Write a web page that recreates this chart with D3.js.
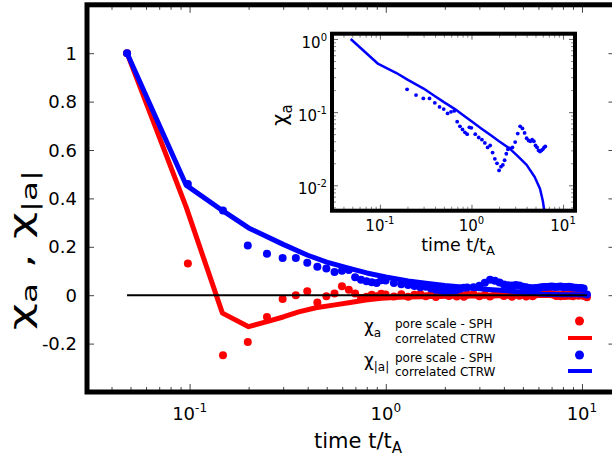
<!DOCTYPE html>
<html><head><meta charset="utf-8">
<script src="https://cdnjs.cloudflare.com/ajax/libs/d3/7.8.5/d3.min.js"></script>
<style>body{margin:0;background:#fff} svg{display:block} text{font-family:"DejaVu Sans",sans-serif;fill:#000;font-weight:normal}</style>
</head><body><svg id="c" width="612" height="457"></svg>
<script>
// ---------------- data ----------------
const tSPH = [0.048,0.098,0.148,0.198,0.248,0.298,0.348,0.398,0.448,0.498,
  0.548,0.598,0.648,0.698,0.748,0.798,0.848,0.898,0.948,0.998,
  1.1,1.2,1.3,1.4,1.5,1.6,1.7,1.8,1.9,2.0,
  2.1,2.2,2.3,2.4,2.5,2.6,2.8,3.0,3.2,3.4,
  3.6,3.8,4.0,4.2,4.4,4.6,4.8,5.0,5.2,5.4,
  5.6,5.8,6.0,6.2,6.4,6.6,6.8,7.0,7.2,7.4,
  7.6,7.8,8.0,8.2,8.4,8.6,8.8,9.0,9.3,9.6,
  9.9,10.2,10.6];
const chiA_SPH = [1.0,0.131,-0.248,-0.193,-0.09,-0.016,0.0,0.016,-0.03,-0.004,
  0.007,0.037,0.023,0.007,-0.012,-0.006,0.002,-0.004,0.006,0.003,
  -0.005,0.004,-0.006,0.002,0.005,-0.004,0.003,-0.007,0.001,0.004,
  -0.003,0.006,-0.005,0.002,-0.006,0.003,0.005,-0.004,0.002,-0.005,
  0.004,0.006,-0.003,0.002,-0.006,0.003,-0.002,0.004,-0.005,0.001,
  -0.004,0.003,0.006,0.008,0.009,0.007,0.008,0.004,0.002,-0.003,
  0.001,-0.004,0.002,-0.003,0.001,-0.002,0.003,-0.004,0.002,-0.002,
  0.001,-0.003,-0.008];
const chiAbs_SPH = [1.0,0.46,0.35,0.205,0.171,0.154,0.154,0.134,0.118,0.110,
  0.096,0.101,0.104,0.074,0.064,0.058,0.053,0.050,0.062,0.061,
  0.050,0.045,0.042,0.038,0.033,0.035,0.028,0.023,0.020,0.016,
  0.018,0.019,0.022,0.027,0.031,0.032,0.033,0.039,0.051,0.064,
  0.060,0.052,0.044,0.041,0.040,0.042,0.040,0.035,0.033,0.030,
  0.029,0.030,0.031,0.033,0.034,0.034,0.035,0.036,0.035,0.034,
  0.035,0.036,0.034,0.033,0.034,0.035,0.033,0.032,0.031,0.030,
  0.030,0.028,0.003];
const tCTRW_a = [0.048,0.096,0.147,0.2,0.24,0.3,0.36,0.44,0.54,0.66,0.79,0.95,1.17,1.5,2,3,4,5,6,7,8,9,10.6];
const chiA_CTRW = [1.0,0.365,-0.074,-0.13,-0.112,-0.09,-0.069,-0.052,-0.041,-0.03,-0.02,-0.013,-0.008,-0.006,-0.004,-0.003,-0.002,-0.002,-0.001,-0.001,0.0,0.0,0.0];
const tCTRW_abs = [0.048,0.096,0.15,0.2,0.3,0.4,0.5,0.66,0.8,1.0,1.3,1.6,2.0,2.6,3.2,4.0,4.9,5.6,6.0,6.3,7,8,9,10.6];
const chiAbs_CTRW = [1.0,0.455,0.345,0.278,0.21,0.165,0.137,0.110,0.092,0.075,0.059,0.049,0.040,0.032,0.025,0.019,0.013,0.009,0.0062,0.0042,0.003,0.002,0.002,0.001];
const zeroLineT = [0.048, 10.6];
const yTicks = [-0.2,0,0.2,0.4,0.6,0.8,1];
const yTickLabels = ["-0.2","0","0.2","0.4","0.6","0.8","1"];
const xMajorTicks = [0.1,1,10];
const xTickExps = ["-1","0","1"];
const insetYMajor = [0.01,0.1,1];
const insetYExps = ["-2","-1","0"];
const insetTRange = [0.19, 6.5];
const legendRows = [
  {sym:"a", label:"pore scale - SPH", kind:"dot", color:"#ff0000"},
  {sym:"", label:"correlated CTRW", kind:"line", color:"#ff0000"},
  {sym:"|a|", label:"pore scale - SPH", kind:"dot", color:"#0000ff"},
  {sym:"", label:"correlated CTRW", kind:"line", color:"#0000ff"}
];
const RED = "#ff0000", BLUE = "#0000ff";

// ---------------- main ----------------
const svg = d3.select("#c");
const X0 = 87, X1 = 616.5, Y0 = 392, Y1 = 4.8;
const x = d3.scaleLog().domain([0.03, 15]).range([X0, X1]);
const y = d3.scaleLinear().domain([-0.4, 1.2]).range([Y0, Y1]);
const isMajor = t => Math.abs(Math.log10(t) - Math.round(Math.log10(t))) < 1e-6;
const xMinor = x.ticks().filter(t => !isMajor(t));

function addAxis(gen, tx, ty, color) {
  const g = svg.append("g").attr("transform", `translate(${tx},${ty})`).call(gen);
  g.select(".domain").remove();
  g.selectAll("text").remove();
  g.selectAll("line").attr("stroke", color || "#444").attr("stroke-width", 1);
  return g;
}
addAxis(d3.axisBottom(x).tickValues(xMajorTicks).tickSize(-8).tickFormat(""), 0, Y0);
addAxis(d3.axisBottom(x).tickValues(xMinor).tickSize(-5).tickFormat(""), 0, Y0);
addAxis(d3.axisTop(x).tickValues(xMajorTicks).tickSize(-8).tickFormat(""), 0, Y1);
addAxis(d3.axisTop(x).tickValues(xMinor).tickSize(-5).tickFormat(""), 0, Y1);
addAxis(d3.axisLeft(y).tickValues(yTicks).tickSize(-7).tickFormat(""), X0, 0);
addAxis(d3.axisRight(y).tickValues(yTicks).tickSize(-8).tickFormat(""), X1, 0);

const sph = tSPH.map((t, i) => ({t, a: chiA_SPH[i], b: chiAbs_SPH[i]}));
const ctrwA = tCTRW_a.map((t, i) => ({t, v: chiA_CTRW[i]}));
const ctrwB = tCTRW_abs.map((t, i) => ({t, v: chiAbs_CTRW[i]}));
const lineMain = d3.line().x(d => x(d.t)).y(d => y(d.v));

svg.append("path").datum(ctrwA).attr("d", lineMain).attr("fill", "none")
  .attr("stroke", RED).attr("stroke-width", 5).attr("stroke-linejoin", "round");
svg.append("g").selectAll("circle").data(sph).join("circle")
  .attr("cx", d => x(d.t)).attr("cy", d => y(d.a)).attr("r", 4).attr("fill", RED);
svg.append("path").datum(ctrwB).attr("d", lineMain).attr("fill", "none")
  .attr("stroke", BLUE).attr("stroke-width", 5).attr("stroke-linejoin", "round");
svg.append("g").selectAll("circle").data(sph).join("circle")
  .attr("cx", d => x(d.t)).attr("cy", d => y(d.b)).attr("r", 4).attr("fill", BLUE);
svg.append("path").datum(zeroLineT.map(t => ({t, v: 0}))).attr("d", lineMain)
  .attr("stroke", "#000").attr("stroke-width", 2).attr("fill", "none");

// frame
svg.append("rect").attr("x", X0).attr("y", Y1).attr("width", X1 - X0).attr("height", Y0 - Y1)
  .attr("fill", "none").attr("stroke", "#000").attr("stroke-width", 5);

// tick labels
svg.append("g").selectAll("text").data(yTicks).join("text")
  .attr("x", 77).attr("y", d => y(d) + 6.5).attr("text-anchor", "end").attr("font-size", 18)
  .text((d, i) => yTickLabels[i]);
xMajorTicks.forEach((t, i) => {
  const tx = svg.append("text").attr("x", x(t)).attr("y", 420).attr("text-anchor", "middle").attr("font-size", 18);
  tx.append("tspan").text("10");
  tx.append("tspan").attr("font-size", 12).attr("dy", -8).text(xTickExps[i]);
});
// axis labels
const xl = svg.append("text").attr("x", 358).attr("y", 448).attr("text-anchor", "middle").attr("font-size", 21);
xl.append("tspan").text("time t/t");
xl.append("tspan").attr("font-size", 15).attr("dy", 5).text("A");
const yl = svg.append("text").attr("transform", "translate(31,250) rotate(-90)").attr("text-anchor", "middle")
  .attr("font-size", 30).attr("textLength", 160).attr("lengthAdjust", "spacingAndGlyphs");
yl.append("tspan").text("χ");
yl.append("tspan").attr("font-size", 21).attr("dy", 6).text("a");
yl.append("tspan").attr("dy", -6).text(" , ");
yl.append("tspan").text("χ");
yl.append("tspan").attr("font-size", 21).attr("dy", 6).text("|a|");

// legend
const lg = svg.append("g");
const rowY = [323, 338, 357, 371];
legendRows.forEach((r, i) => {
  lg.append("text").attr("x", 395).attr("y", rowY[i] + 4.5).attr("font-size", 12).text(r.label);
  if (r.kind === "dot") lg.append("circle").attr("cx", 579.5).attr("cy", rowY[i] - 2).attr("r", 4.5).attr("fill", r.color);
  else lg.append("line").attr("x1", 568).attr("x2", 592).attr("y1", rowY[i]).attr("y2", rowY[i]).attr("stroke", r.color).attr("stroke-width", 4);
  if (r.sym) {
    const s = lg.append("text").attr("x", 364).attr("y", rowY[i] + 9).attr("font-size", 17);
    s.append("tspan").text("χ");
    s.append("tspan").attr("font-size", 12).attr("dy", 5).text(r.sym);
  }
});

// ---------------- inset ----------------
const IX0 = 332, IX1 = 575, IY0 = 210.7, IY1 = 33.7;
const xi = d3.scaleLog().domain([0.03, 13.5]).range([IX0, IX1]);
const yi = d3.scaleLog().domain([0.0045, 1.18]).range([IY0, IY1]);
svg.append("rect").attr("x", IX0).attr("y", IY1).attr("width", IX1 - IX0).attr("height", IY0 - IY1).attr("fill", "#fff");
svg.append("clipPath").attr("id", "ic").append("rect").attr("x", IX0).attr("y", IY1).attr("width", IX1 - IX0).attr("height", IY0 - IY1);
const xiMinor = xi.ticks().filter(t => !isMajor(t));
const yiMinor = yi.ticks().filter(t => !isMajor(t));
addAxis(d3.axisBottom(xi).tickValues(xMajorTicks).tickSize(-6).tickFormat(""), 0, IY0, "#666");
addAxis(d3.axisBottom(xi).tickValues(xiMinor).tickSize(-4).tickFormat(""), 0, IY0, "#888");
addAxis(d3.axisTop(xi).tickValues(xMajorTicks).tickSize(-6).tickFormat(""), 0, IY1, "#666");
addAxis(d3.axisTop(xi).tickValues(xiMinor).tickSize(-4).tickFormat(""), 0, IY1, "#888");
addAxis(d3.axisLeft(yi).tickValues(insetYMajor).tickSize(-6).tickFormat(""), IX0, 0, "#666");
addAxis(d3.axisLeft(yi).tickValues(yiMinor).tickSize(-4).tickFormat(""), IX0, 0, "#888");
addAxis(d3.axisRight(yi).tickValues(insetYMajor).tickSize(-6).tickFormat(""), IX1, 0, "#666");
addAxis(d3.axisRight(yi).tickValues(yiMinor).tickSize(-4).tickFormat(""), IX1, 0, "#888");

const ig = svg.append("g").attr("clip-path", "url(#ic)");
const lineInset = d3.line().x(d => xi(d.t)).y(d => yi(d.v));
ig.append("path").datum(ctrwB.filter(d => d.v > 0)).attr("d", lineInset).attr("fill", "none")
  .attr("stroke", BLUE).attr("stroke-width", 2.5).attr("stroke-linejoin", "round");
ig.selectAll("circle").data(sph.filter(d => d.t >= insetTRange[0] && d.t <= insetTRange[1] && d.b > 0)).join("circle")
  .attr("cx", d => xi(d.t)).attr("cy", d => yi(d.b)).attr("r", 1.9).attr("fill", BLUE);
svg.append("rect").attr("x", IX0).attr("y", IY1).attr("width", IX1 - IX0).attr("height", IY0 - IY1)
  .attr("fill", "none").attr("stroke", "#000").attr("stroke-width", 4);

xMajorTicks.forEach((t, i) => {
  const tx = svg.append("text").attr("x", xi(t)).attr("y", 230.5).attr("text-anchor", "middle").attr("font-size", 15);
  tx.append("tspan").text("10");
  tx.append("tspan").attr("font-size", 10).attr("dy", -7).text(xTickExps[i]);
});
insetYMajor.forEach((v, i) => {
  const tx = svg.append("text").attr("x", 327).attr("y", yi(v) + 9).attr("text-anchor", "end").attr("font-size", 15);
  tx.append("tspan").text("10");
  tx.append("tspan").attr("font-size", 10).attr("dy", -7).text(insetYExps[i]);
});
const ixl = svg.append("text").attr("x", 458).attr("y", 250.5).attr("text-anchor", "middle").attr("font-size", 17.5);
ixl.append("tspan").text("time t/t");
ixl.append("tspan").attr("font-size", 13).attr("dy", 4).text("A");
const iyl = svg.append("text").attr("transform", "translate(287,115) rotate(-90)").attr("text-anchor", "middle").attr("font-size", 21);
iyl.append("tspan").text("χ");
iyl.append("tspan").attr("font-size", 15).attr("dy", 5).text("a");
</script></body></html>
